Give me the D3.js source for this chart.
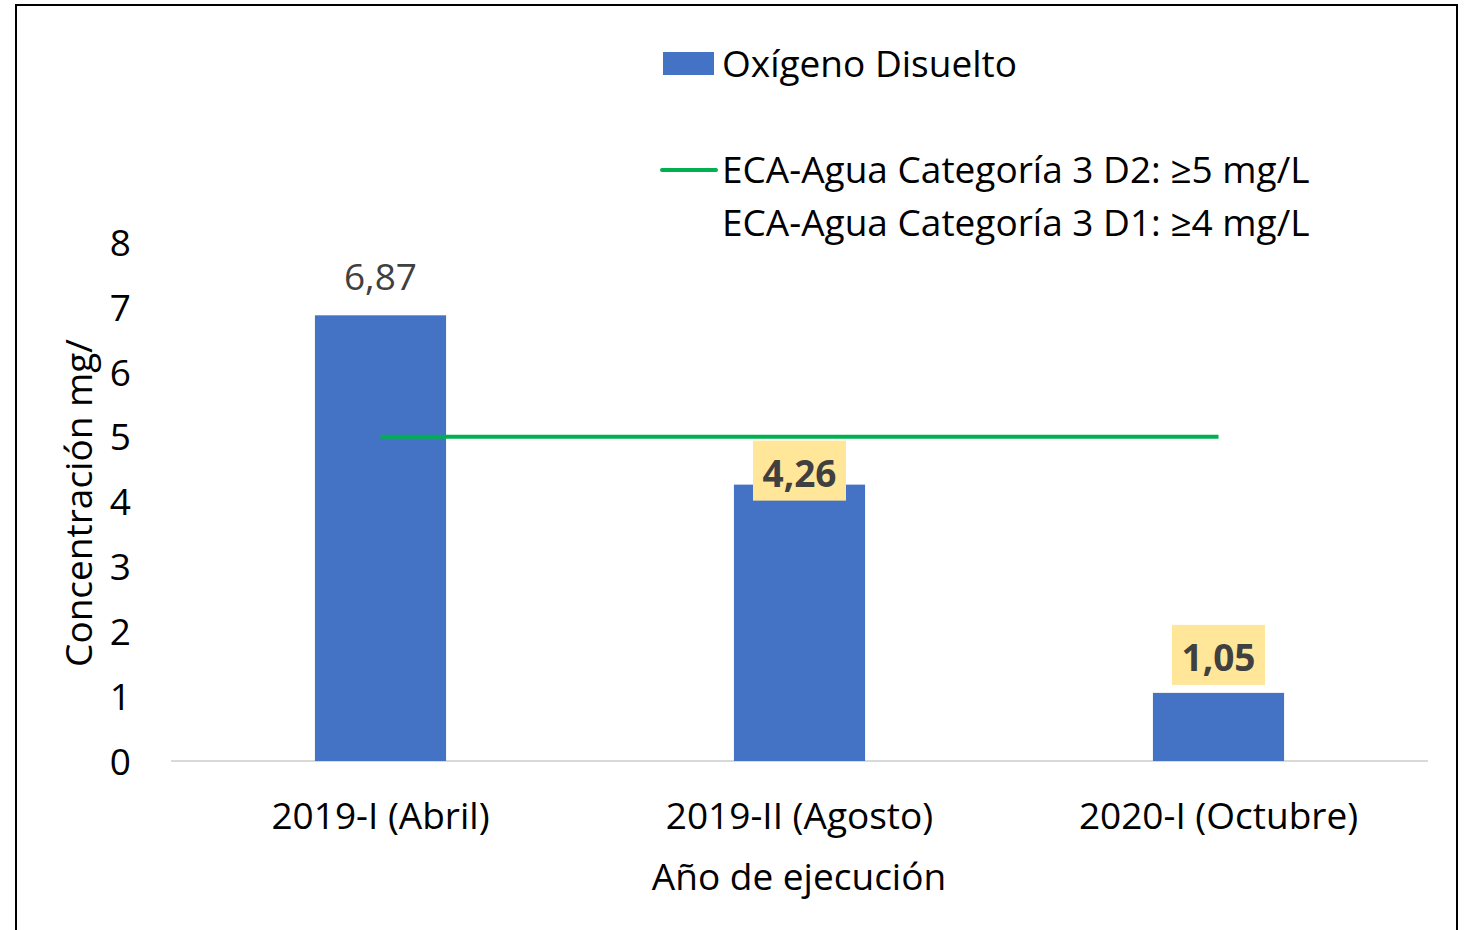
<!DOCTYPE html>
<html>
<head>
<meta charset="utf-8">
<script src="https://cdn.jsdelivr.net/npm/d3@7"></script>
<style>
  html, body { margin: 0; padding: 0; background: #fff; }
  svg { display: block; font-family: "Open Sans", Lato, sans-serif; }
</style>
</head>
<body>
<svg id="chart" width="1468" height="930"></svg>
<script>
// Dissolved oxygen per sampling campaign
const categories = ["2019-I (Abril)", "2019-II (Agosto)", "2020-I (Octubre)"];
const oxygenValues = [6.87, 4.26, 1.05];
const valueLabels = ["6,87", "4,26", "1,05"];
const highlighted = [false, true, true];
const standardD2 = 5;
const yTicks = [0, 1, 2, 3, 4, 5, 6, 7, 8];
const legendItems = ["Oxígeno Disuelto", "ECA-Agua Categoría 3 D2: ≥5 mg/L", "ECA-Agua Categoría 3 D1: ≥4 mg/L"];
const yTitle = "Concentración mg/";
const xTitle = "Año de ejecución";

const FS = 37;
const svg = d3.select("#chart");
const plot = { left: 171, right: 1428, top: 242, bottom: 761 };
const BAR = "#4472C4", LINE = "#00B050", HILITE = "#FFE699";

// outer frame
svg.append("rect")
  .attr("x", 16).attr("y", 5).attr("width", 1441).attr("height", 940)
  .attr("fill", "none").attr("stroke", "#000").attr("stroke-width", 2);

const x = d3.scaleBand().domain(categories).range([plot.left, plot.right]).padding(0);
const y = d3.scaleLinear().domain([0, 8]).range([plot.bottom, plot.top]);
const barW = x.bandwidth() * 0.313;
const cx = c => x(c) + x.bandwidth() / 2;

// y axis tick labels
const yAxis = d3.axisLeft(y).tickValues(yTicks).tickSize(0).tickPadding(0).tickFormat(d3.format("d"));
const yg = svg.append("g").attr("transform", "translate(131,0)").call(yAxis);
yg.select(".domain").remove();
yg.selectAll("text").attr("font-size", FS).attr("fill", "#000")
  .attr("font-family", "'Open Sans', sans-serif").attr("dy", "0.36em");

// baseline
svg.append("line")
  .attr("x1", plot.left).attr("x2", plot.right)
  .attr("y1", y(0)).attr("y2", y(0))
  .attr("stroke", "#d9d9d9").attr("stroke-width", 2);

// bars
svg.append("g").selectAll("rect").data(oxygenValues).join("rect")
  .attr("x", (d, i) => cx(categories[i]) - barW / 2)
  .attr("y", d => y(d))
  .attr("width", barW)
  .attr("height", d => y(0) - y(d))
  .attr("fill", BAR);

// standard threshold line (D2)
svg.append("line")
  .attr("x1", cx(categories[0]))
  .attr("x2", cx(categories[categories.length - 1]))
  .attr("y1", y(standardD2)).attr("y2", y(standardD2))
  .attr("stroke", LINE).attr("stroke-width", 4);

// value labels; highlighted ones sit in a yellow box nudged against the bar top
const boxShift = [0, 16, -8];
const labels = svg.append("g");
oxygenValues.forEach((v, i) => {
  const px = cx(categories[i]);
  if (highlighted[i]) {
    const boxW = 93, boxH = 60;
    const bottom = y(v) + boxShift[i];
    labels.append("rect")
      .attr("x", px - boxW / 2).attr("y", bottom - boxH)
      .attr("width", boxW).attr("height", boxH)
      .attr("fill", HILITE);
    labels.append("text")
      .attr("x", px).attr("y", bottom - 14)
      .attr("text-anchor", "middle").attr("font-size", FS).attr("font-weight", "bold")
      .attr("fill", "#404040").text(valueLabels[i]);
  } else {
    labels.append("text")
      .attr("x", px).attr("y", y(v) - 25)
      .attr("text-anchor", "middle").attr("font-size", FS)
      .attr("fill", "#404040").text(valueLabels[i]);
  }
});

// x axis labels
categories.forEach(c => {
  svg.append("text")
    .attr("x", cx(c)).attr("y", 829)
    .attr("text-anchor", "middle").attr("font-size", FS).attr("fill", "#000").text(c);
});

// axis titles
svg.append("text")
  .attr("x", 799).attr("y", 890)
  .attr("text-anchor", "middle").attr("font-size", FS).attr("fill", "#000").text(xTitle);
svg.append("text")
  .attr("transform", "translate(92,503) rotate(-90)")
  .attr("text-anchor", "middle").attr("font-size", FS).attr("fill", "#000").text(yTitle);

// legend
const lg = svg.append("g");
lg.append("rect").attr("x", 663).attr("y", 52).attr("width", 51).attr("height", 23).attr("fill", BAR);
lg.append("text").attr("x", 722).attr("y", 77).attr("font-size", FS).attr("fill", "#000").text(legendItems[0]);
lg.append("line").attr("x1", 662).attr("x2", 716).attr("y1", 170).attr("y2", 170)
  .attr("stroke", LINE).attr("stroke-width", 4).attr("stroke-linecap", "round");
lg.append("text").attr("x", 722).attr("y", 183).attr("font-size", FS).attr("fill", "#000").text(legendItems[1]);
lg.append("text").attr("x", 722).attr("y", 236).attr("font-size", FS).attr("fill", "#000").text(legendItems[2]);
</script>
</body>
</html>
